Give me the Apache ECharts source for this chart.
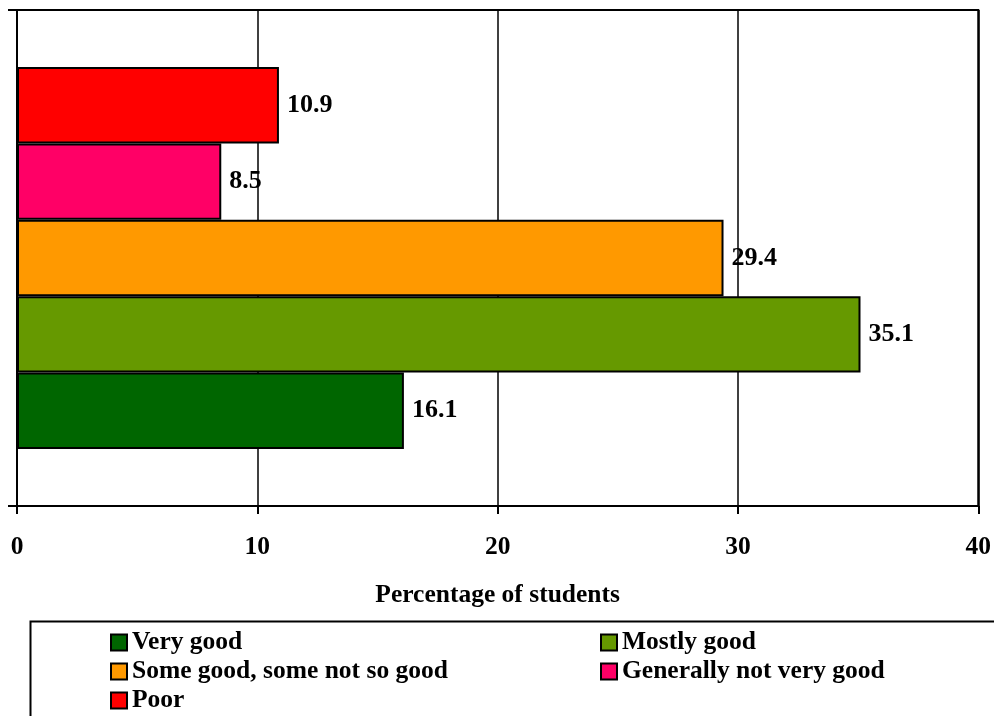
<!DOCTYPE html>
<html>
<head>
<meta charset="utf-8">
<script src="https://cdn.jsdelivr.net/npm/echarts@6/dist/echarts.min.js"></script>
<style>
html,body{margin:0;padding:0;background:#fff;}
#chart{width:994px;height:716px;}
</style>
</head>
<body>
<div id="chart"></div>
<script>
// series listed top-to-bottom as drawn in the chart
const seriesNames = ['Poor', 'Generally not very good', 'Some good, some not so good', 'Mostly good', 'Very good'];
const seriesValues = [10.9, 8.5, 29.4, 35.1, 16.1];
const seriesColors = ['#FF0000', '#FF0066', '#FF9900', '#669900', '#006600'];
const xTicks = [0, 10, 20, 30, 40];
const legendLeftNames = ['Very good', 'Some good, some not so good', 'Poor'];
const legendRightNames = ['Mostly good', 'Generally not very good'];
const axisTitle = 'Percentage of students';

const FONT = '"Liberation Serif", "Times New Roman", serif';
const chart = echarts.init(document.getElementById('chart'), null, {renderer: 'canvas'});

const series = seriesNames.map((name, i) => ({
  name: name,
  type: 'bar',
  data: [seriesValues[i]],
  barGap: '0%',
  barCategoryGap: '23%',
  itemStyle: {color: seriesColors[i], borderColor: '#000', borderWidth: 2},
  label: {
    show: true, position: 'right', distance: 8,
    color: '#000', fontFamily: FONT, fontWeight: 'bold', fontSize: 26,
    formatter: p => p.value.toFixed(1)
  },
  emphasis: {disabled: true}
}));

const legendText = {color: '#000', fontFamily: FONT, fontWeight: 'bold', fontSize: 25.5, lineHeight: 29};

chart.setOption({
  animation: false,
  backgroundColor: '#fff',
  grid: {left: 17, right: 15, top: 10, bottom: 210, show: true, borderColor: '#000', borderWidth: 2, containLabel: false},
  xAxis: {
    type: 'value', min: xTicks[0], max: xTicks[xTicks.length - 1], interval: 10,
    name: axisTitle, nameLocation: 'middle', nameGap: 76,
    nameTextStyle: {color: '#000', fontFamily: FONT, fontWeight: 'bold', fontSize: 25.5},
    axisLine: {show: true, lineStyle: {color: '#000', width: 2}},
    axisTick: {show: true, length: 8, lineStyle: {color: '#000', width: 2}},
    axisLabel: {color: '#000', fontFamily: FONT, fontWeight: 'bold', fontSize: 25.5, margin: 28},
    splitLine: {show: true, lineStyle: {color: '#000', width: 1.5}}
  },
  yAxis: {
    type: 'category', data: [''],
    axisLine: {show: true, lineStyle: {color: '#000', width: 2}},
    axisTick: {show: true, length: 9, lineStyle: {color: '#000', width: 2}},
    axisLabel: {show: false},
    splitLine: {show: false}
  },
  legend: [
    {
      data: legendLeftNames, orient: 'vertical', left: 110, top: 628, height: 88,
      itemWidth: 16, itemHeight: 16, itemGap: 0, icon: 'rect', padding: 0,
      textStyle: legendText, selectedMode: false
    },
    {
      data: legendRightNames, orient: 'vertical', left: 600, top: 628, height: 88,
      itemWidth: 16, itemHeight: 16, itemGap: 0, icon: 'rect', padding: 0,
      textStyle: legendText, selectedMode: false
    }
  ],
  graphic: [{
    type: 'rect', left: 28, top: 619, z: -1,
    shape: {width: 1000, height: 200},
    style: {fill: 'none', stroke: '#000', lineWidth: 2}
  }],
  series: series
});
</script>
</body>
</html>
